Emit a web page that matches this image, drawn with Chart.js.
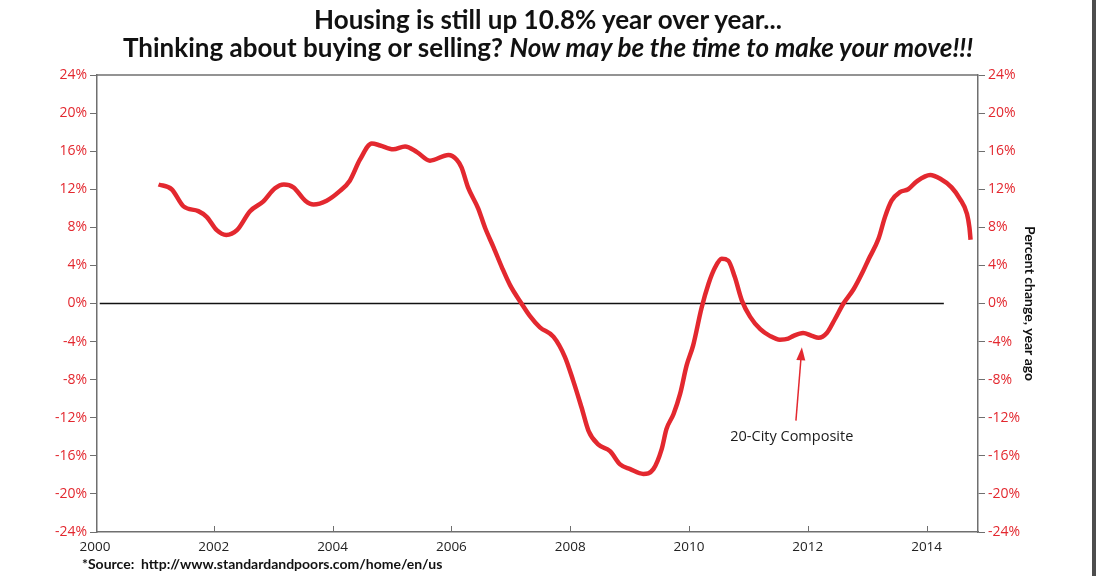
<!DOCTYPE html>
<html>
<head>
<meta charset="utf-8">
<script src="https://cdn.jsdelivr.net/npm/chart.js@4.4.0/dist/chart.umd.min.js"></script>
<style>
  html, body { margin: 0; padding: 0; background: #fff; }
  body { width: 1096px; height: 576px; position: relative; overflow: hidden; }
  canvas { position: absolute; left: 0; top: 0; }
  #title { position: absolute; left: 0; top: 5px; width: 1096px; text-align: center;
           font-family: Lato, sans-serif; font-weight: 700; font-size: 26px; line-height: 28px; color: #111; }
  #source { position: absolute; left: 82px; top: 555px; white-space: pre;
            font-family: Lato, sans-serif; font-weight: 700; font-size: 14px; color: #111; }
  #edge { position: absolute; right: 0; top: 0; width: 4px; height: 576px; background: #4d4d4d; }
</style>
</head>
<body>
<canvas id="chart" width="1096" height="576"></canvas>
<div id="title">Housing is still up 10.8% year over year...<br>Thinking about buying or selling? <i>Now may be the time to make your move!!!</i></div>
<div id="source">*Source:  http://www.standardandpoors.com/home/en/us</div>
<div id="edge"></div>
<script>
// S&P/Case-Shiller 20-City Composite, % change year ago
const dates = [
  2001.07, 2001.29, 2001.49, 2001.74, 2001.88, 2002.05, 2002.21, 2002.39, 2002.61, 2002.83,
  2003.03, 2003.18, 2003.34, 2003.54, 2003.68, 2003.90, 2004.12, 2004.29, 2004.46, 2004.66,
  2004.80, 2005.02, 2005.22, 2005.42, 2005.64, 2005.95, 2006.09, 2006.17, 2006.28, 2006.45,
  2006.57, 2006.71, 2006.85, 2006.99, 2007.18, 2007.32, 2007.49, 2007.72, 2007.91, 2008.05,
  2008.19, 2008.31, 2008.47, 2008.67, 2008.84, 2009.01, 2009.23, 2009.40, 2009.54, 2009.62,
  2009.74, 2009.85, 2009.96, 2010.07, 2010.21, 2010.33, 2010.44, 2010.55, 2010.66, 2010.77,
  2010.89, 2011.03, 2011.20, 2011.36, 2011.53, 2011.67, 2011.76, 2011.92, 2012.07, 2012.18,
  2012.32, 2012.46, 2012.60, 2012.77, 2012.93, 2013.02, 2013.19, 2013.30, 2013.41, 2013.55,
  2013.69, 2013.83, 2014.06, 2014.23, 2014.42, 2014.56, 2014.68, 2014.72, 2014.74
];
const composite = [
  12.5, 12.0, 10.2, 9.7, 9.1, 7.7, 7.2, 7.7, 9.7, 10.7,
  12.1, 12.5, 12.2, 10.8, 10.4, 10.8, 11.8, 12.9, 15.1, 16.8,
  16.6, 16.2, 16.5, 15.9, 15.0, 15.6, 15.1, 14.3, 12.2, 10.0,
  7.9, 5.9, 3.8, 1.9, 0.0, -1.3, -2.5, -3.5, -5.6, -8.1,
  -10.9, -13.4, -14.8, -15.5, -16.9, -17.4, -17.9, -17.4, -15.3, -13.2,
  -11.6, -9.5, -6.5, -4.4, -0.5, 2.1, 3.8, 4.7, 4.5, 2.8,
  0.3, -1.4, -2.7, -3.4, -3.8, -3.7, -3.4, -3.1, -3.4, -3.6,
  -3.1, -1.6, 0.0, 1.5, 3.4, 4.6, 6.8, 9.1, 10.8, 11.7,
  12.0, 12.8, 13.5, 13.1, 12.2, 11.0, 9.4, 8.0, 6.7
];
const zeroDates = [2000.08, 2014.29];
const zeroValues = [0, 0];
const xTicks = [2000, 2002, 2004, 2006, 2008, 2010, 2012, 2014];
const yTicks = [-24, -20, -16, -12, -8, -4, 0, 4, 8, 12, 16, 20, 24];

const labelText = '20-City Composite';
const labelAt = [2011.73, -14.0];
const arrowFrom = [2011.80, -12.3];
const arrowTo = [2011.90, -4.6];

const RED = '#e3282f';
const AXIS = '#6f6f6f';

const extras = {
  id: 'extras',
  afterDraw(chart) {
    const ctx = chart.ctx, a = chart.chartArea;
    const x = chart.scales.x, y = chart.scales.y;
    ctx.save();
    // top frame line
    ctx.strokeStyle = AXIS; ctx.lineWidth = 1.5;
    ctx.beginPath(); ctx.moveTo(a.left, a.top); ctx.lineTo(a.right, a.top); ctx.stroke();
    // inward ticks on the bottom axis
    ctx.lineWidth = 1;
    xTicks.slice(1).forEach(t => {
      const px = Math.round(x.getPixelForValue(t)) + 0.5;
      ctx.beginPath(); ctx.moveTo(px, a.bottom); ctx.lineTo(px, a.bottom - 6); ctx.stroke();
    });
    // arrow
    const x0 = x.getPixelForValue(arrowFrom[0]), y0 = y.getPixelForValue(arrowFrom[1]);
    const x1 = x.getPixelForValue(arrowTo[0]), y1 = y.getPixelForValue(arrowTo[1]);
    const ang = Math.atan2(y1 - y0, x1 - x0);
    ctx.strokeStyle = RED; ctx.fillStyle = RED; ctx.lineWidth = 1.5;
    ctx.beginPath(); ctx.moveTo(x0, y0);
    ctx.lineTo(x1 - 10 * Math.cos(ang), y1 - 10 * Math.sin(ang)); ctx.stroke();
    ctx.beginPath();
    ctx.moveTo(x1, y1);
    ctx.lineTo(x1 - 13 * Math.cos(ang) + 4.5 * Math.sin(ang), y1 - 13 * Math.sin(ang) - 4.5 * Math.cos(ang));
    ctx.lineTo(x1 - 13 * Math.cos(ang) - 4.5 * Math.sin(ang), y1 - 13 * Math.sin(ang) + 4.5 * Math.cos(ang));
    ctx.closePath(); ctx.fill();
    // label
    ctx.fillStyle = '#1b1b1b';
    ctx.font = '14.5px "Open Sans"';
    ctx.textAlign = 'center'; ctx.textBaseline = 'middle';
    ctx.fillText(labelText, x.getPixelForValue(labelAt[0]), y.getPixelForValue(labelAt[1]));
    ctx.restore();
  }
};

const yAxis = (pos) => ({
  type: 'linear',
  position: pos,
  min: -24,
  max: 24,
  afterBuildTicks: s => { s.ticks = yTicks.map(v => ({ value: v })); },
  afterFit: s => { s.width = pos === 'left' ? 97 : 64; },
  ticks: {
    color: RED,
    padding: 3,
    font: { family: 'Open Sans', size: 14 },
    callback: v => v + '%'
  },
  grid: { display: true, drawOnChartArea: false, tickLength: 7, color: AXIS, lineWidth: 1 },
  border: { display: true, color: AXIS, width: 1.5 }
});

const y2 = yAxis('right');
y2.title = {
  display: true,
  text: 'Percent change, year ago',
  color: '#111',
  font: { family: 'Lato', size: 14, weight: 'bold' },
  padding: { top: 4, bottom: 4 }
};

new Chart(document.getElementById('chart'), {
  type: 'line',
  data: {
    datasets: [
      {
        label: '20-City Composite',
        data: dates.map((d, i) => ({ x: d, y: composite[i] })),
        borderColor: RED,
        borderWidth: 4.5,
        pointRadius: 0,
        cubicInterpolationMode: 'monotone',
        order: 0
      },
      {
        label: 'zero',
        data: zeroDates.map((d, i) => ({ x: d, y: zeroValues[i] })),
        borderColor: '#111',
        borderWidth: 1.3,
        pointRadius: 0,
        order: 1
      }
    ]
  },
  options: {
    responsive: false,
    animation: false,
    layout: { padding: { top: 75, right: 54, bottom: 0, left: 0 } },
    plugins: { legend: { display: false }, tooltip: { enabled: false } },
    scales: {
      x: {
        type: 'linear',
        min: 2000.034,
        max: 2014.865,
        afterBuildTicks: s => { s.ticks = xTicks.map(v => ({ value: v })); },
        afterFit: s => { s.height = 44; },
        ticks: {
          color: '#222',
          padding: 7,
          maxRotation: 0,
          font: { family: 'Open Sans', size: 13.5 },
          callback: v => String(v)
        },
        grid: { display: false, drawTicks: false },
        border: { display: true, color: AXIS, width: 1.5 }
      },
      y: yAxis('left'),
      y2: y2
    }
  },
  plugins: [extras]
});
</script>
</body>
</html>
